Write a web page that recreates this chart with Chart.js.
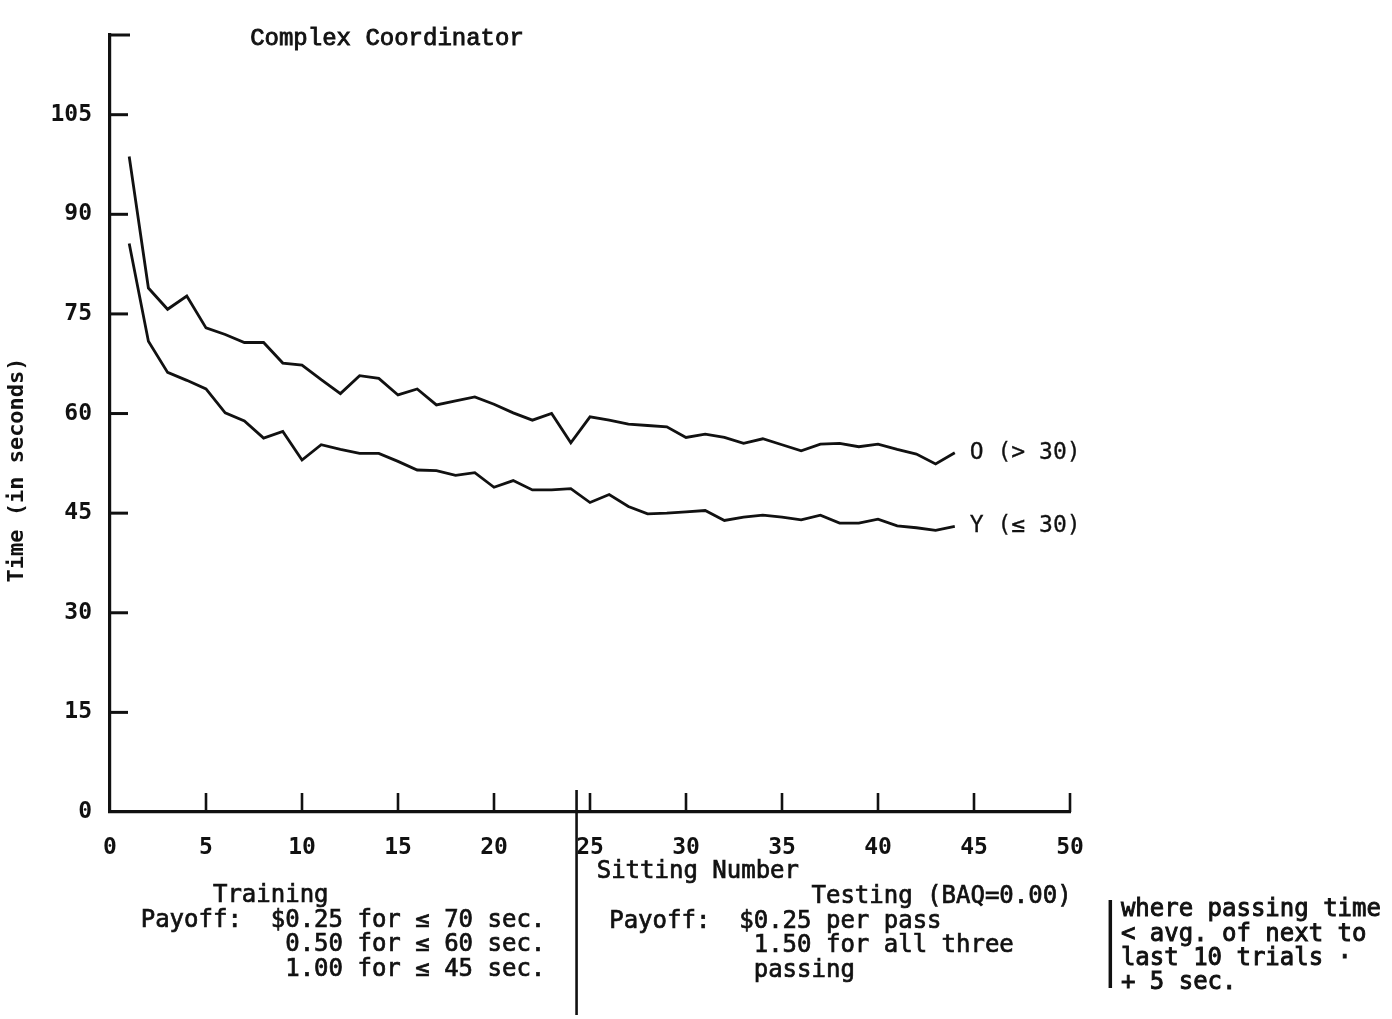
<!DOCTYPE html>
<html>
<head>
<meta charset="utf-8">
<title>Complex Coordinator</title>
<script src="https://cdn.jsdelivr.net/npm/chart.js@4.4.1/dist/chart.umd.min.js"></script>
<style>
  html,body{margin:0;padding:0;background:#fff;}
  #wrap{width:1392px;height:1019px;}
</style>
</head>
<body>
<div id="wrap"><canvas id="cc" width="1392" height="1019"></canvas></div>
<script>
(function () {
  'use strict';

  /* Mean completion time per sitting, two age groups */
  var sittings = [1,2,3,4,5,6,7,8,9,10,11,12,13,14,15,16,17,18,19,20,21,22,
                  23,24,25,26,27,28,29,30,31,32,33,34,35,36,37,38,39,40,41,42,43,44];
  var olderTimes = [98.7,78.9,75.7,77.7,72.9,71.9,70.7,70.7,67.6,67.3,
                    65.1,63.0,65.7,65.3,62.8,63.7,61.3,61.9,62.5,61.4,
                    60.1,59.0,60.0,55.6,59.5,59.0,58.4,58.2,58.0,56.4,
                    56.9,56.4,55.5,56.2,55.3,54.4,55.4,55.5,55.0,55.4,
                    54.6,53.9,52.4,54.1];
  var youngerTimes = [85.6,70.9,66.2,65.0,63.7,60.1,58.9,56.3,57.3,53.0,
                      55.3,54.6,54.0,54.0,52.8,51.5,51.4,50.7,51.1,48.9,
                      49.9,48.5,48.5,48.7,46.6,47.8,46.0,44.9,45.0,45.2,
                      45.4,43.9,44.4,44.7,44.4,44.0,44.7,43.5,43.5,44.1,
                      43.1,42.8,42.4,43.0];
  var seriesLabels = ['O (> 30)', 'Y (\u2264 30)'];
  var xTicks = [0,5,10,15,20,25,30,35,40,45,50];
  var yTicks = [0,15,30,45,60,75,90,105];
  var Y_TOP = 117;
  var PHASE_SPLIT = 24.3;   // sitting where training ends

  var trainingLines = [
    '     Training',
    'Payoff:  $0.25 for \u2264 70 sec.',
    '          0.50 for \u2264 60 sec.',
    '          1.00 for \u2264 45 sec.'
  ];
  var testingLines = [
    '              Testing (BAQ=0.00)',
    'Payoff:  $0.25 per pass',
    '          1.50 for all three',
    '          passing'
  ];
  var passNote = ['where passing time', '< avg. of next to', 'last 10 trials \u00b7', '+ 5 sec.'];

  var INK = '#111';
  var MONO = '"DejaVu Sans Mono", monospace';

  function pts(vals){ return sittings.map(function(s,i){ return {x:s, y:vals[i]}; }); }
  function seg(ctx,x1,y1,x2,y2){ ctx.beginPath(); ctx.moveTo(x1,y1); ctx.lineTo(x2,y2); ctx.stroke(); }
  // typewriter text: fill plus a thin outline for a heavier stroke
  function type(ctx,t,x,y,w){ ctx.lineWidth = w; ctx.strokeText(t,x,y); ctx.fillText(t,x,y); }

  /* inward tick marks + top cap of the y axis */
  var inkTicks = {
    id: 'inkTicks',
    afterDraw: function (chart) {
      var ctx = chart.ctx, xs = chart.scales.x, ys = chart.scales.y, a = chart.chartArea;
      ctx.save();
      ctx.strokeStyle = INK; ctx.lineWidth = 3;
      ys.ticks.forEach(function (t) {
        if (t.value === 0) return;
        var py = ys.getPixelForValue(t.value);
        seg(ctx, a.left, py, a.left + 18, py);
      });
      seg(ctx, a.left, a.top, a.left + 20, a.top);
      ctx.lineWidth = 2.6;
      xs.ticks.forEach(function (t) {
        if (t.value === 0) return;
        var px = xs.getPixelForValue(t.value);
        seg(ctx, px, a.bottom, px, a.bottom - 19);
      });
      ctx.restore();
    }
  };

  /* title, axis captions, end labels and the payoff notes */
  var notes = {
    id: 'notes',
    afterDraw: function (chart) {
      var ctx = chart.ctx, xs = chart.scales.x, ys = chart.scales.y, a = chart.chartArea;
      ctx.save();
      ctx.fillStyle = INK; ctx.strokeStyle = INK;
      ctx.textBaseline = 'middle'; ctx.textAlign = 'left';

      ctx.font = '24px "Liberation Mono", monospace';
      type(ctx, 'Complex Coordinator', xs.getPixelForValue(7.3), a.top + 4, 0.9);

      // y axis caption
      ctx.save();
      ctx.font = 'bold 22px ' + MONO;
      ctx.translate(17, ys.getPixelForValue(51.5));
      ctx.rotate(-Math.PI / 2);
      ctx.textAlign = 'center';
      ctx.fillText('Time (in seconds)', 0, 0);
      ctx.restore();

      // labels at the end of each line
      ctx.font = '23px ' + MONO;
      chart.data.datasets.forEach(function (ds, i) {
        var last = ds.data[ds.data.length - 1];
        type(ctx, seriesLabels[i], xs.getPixelForValue(last.x) + 15, ys.getPixelForValue(last.y), 0.3);
      });

      // training / testing divider
      ctx.lineWidth = 2.6;
      var dx = xs.getPixelForValue(PHASE_SPLIT);
      seg(ctx, dx, a.bottom - 22, dx, chart.height - 4);

      ctx.font = '24px ' + MONO;
      type(ctx, 'Sitting Number', xs.getPixelForValue(25.35), a.bottom + 60, 0.7);

      var rowY = [84, 108.5, 133, 158];
      var lx = xs.getPixelForValue(1.6), rx = xs.getPixelForValue(26.0);
      trainingLines.forEach(function (t, i) { type(ctx, t, lx, a.bottom + rowY[i], 0.7); });
      testingLines.forEach(function (t, i) { type(ctx, t, rx, a.bottom + rowY[i] + 1, 0.7); });

      var nx = xs.getPixelForValue(52.65);
      passNote.forEach(function (t, i) { type(ctx, t, nx, a.bottom + 98 + i * 24.4, 0.9); });
      ctx.lineWidth = 3.5;
      var bx = xs.getPixelForValue(52.1);
      seg(ctx, bx, a.bottom + 88, bx, a.bottom + 176);
      ctx.restore();
    }
  };

  var tickFont = { family: MONO, size: 23, weight: 'bold' };

  new Chart(document.getElementById('cc'), {
    type: 'line',
    data: {
      datasets: [
        { label: seriesLabels[0], data: pts(olderTimes), borderColor: INK, borderWidth: 2.8,
          pointRadius: 0, tension: 0, fill: false },
        { label: seriesLabels[1], data: pts(youngerTimes), borderColor: INK, borderWidth: 2.8,
          pointRadius: 0, tension: 0, fill: false }
      ]
    },
    options: {
      responsive: false, animation: false, devicePixelRatio: 1,
      layout: { padding: { top: 35, right: 322, bottom: 0, left: 0 } },
      plugins: { legend: { display: false }, tooltip: { enabled: false } },
      scales: {
        x: {
          type: 'linear', min: 0, max: 50,
          afterBuildTicks: function (s) { s.ticks = xTicks.map(function (v) { return { value: v }; }); },
          afterFit: function (s) { s.height = 207; },
          grid: { display: false, drawTicks: false },
          border: { display: true, width: 3.2, color: INK },
          ticks: { padding: 22, color: INK, font: tickFont, maxRotation: 0, autoSkip: false }
        },
        y: {
          type: 'linear', min: 0, max: Y_TOP,
          afterBuildTicks: function (s) { s.ticks = yTicks.map(function (v) { return { value: v }; }); },
          afterFit: function (s) { s.width = 110; },
          grid: { display: false, drawTicks: false },
          border: { display: true, width: 3.2, color: INK },
          ticks: { padding: 18, color: INK, font: tickFont }
        }
      }
    },
    plugins: [inkTicks, notes]
  });
})();
</script>
</body>
</html>
